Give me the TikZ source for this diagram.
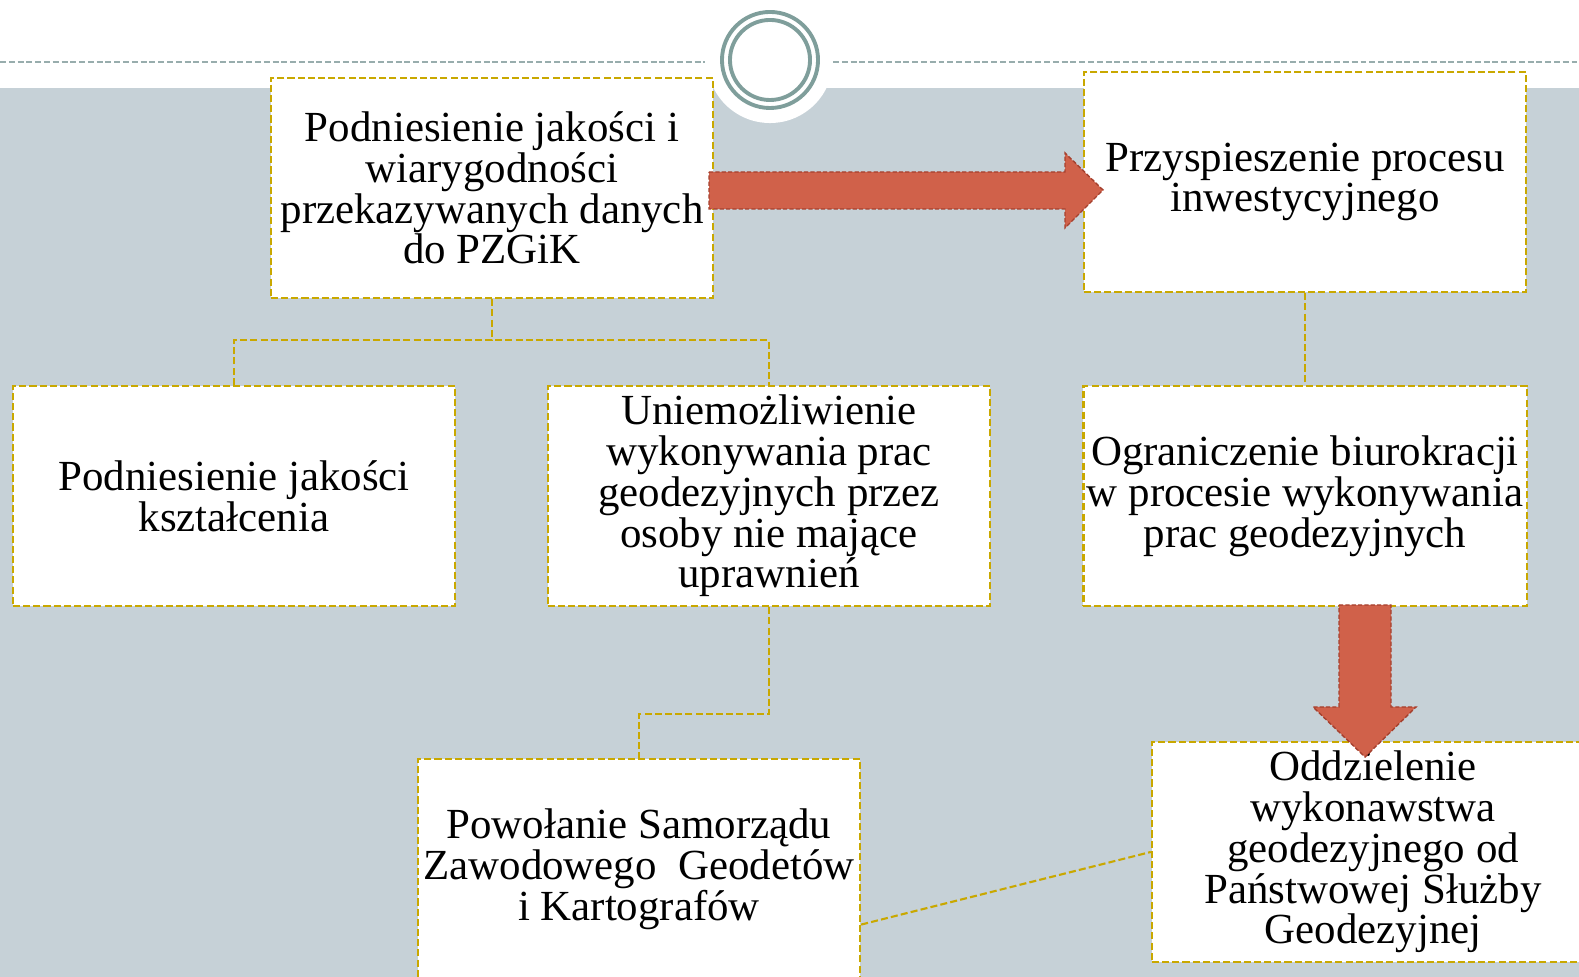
\documentclass[tikz,border=0pt]{standalone}
\usepackage{fontspec}
\setmainfont{Liberation Serif}
\usetikzlibrary{calc}
\definecolor{bgGray}{HTML}{C6D1D7}
\definecolor{ringGray}{HTML}{7F9E9B}
\definecolor{ruleGray}{HTML}{98ADAD}
\definecolor{boxGold}{HTML}{C9A800}
\definecolor{arrowRed}{HTML}{D0614A}
\definecolor{arrowEdge}{HTML}{A5402E}
\begin{document}
\begin{tikzpicture}[x=0.01cm, y=-0.01cm,
    box/.style={draw=boxGold, fill=white, line width=0.6pt,
      dash pattern=on 2pt off 0.9pt, minimum width=4.42cm,
      minimum height=2.2cm, align=center, inner sep=1pt,
      font=\fontsize{12.2}{11.6}\selectfont},
    link/.style={draw=boxGold, line width=0.6pt, dash pattern=on 2pt off 0.9pt},
    blockarrow/.style={fill=arrowRed, draw=arrowEdge, line width=0.4pt,
      dash pattern=on 1.2pt off 0.6pt}]
  \useasboundingbox (0,0) rectangle (1579,977);
  \clip (0,0) rectangle (1579,977);

  % background and top ornament
  \fill[bgGray] (0,88) rectangle (1579,977);
  \fill[white] (770,60) circle[radius=0.63cm];
  \draw[ruleGray, line width=0.45pt, dash pattern=on 1.7pt off 0.8pt] (0,62) -- (705,62);
  \draw[ruleGray, line width=0.45pt, dash pattern=on 1.7pt off 0.8pt] (833,62) -- (1579,62);
  \draw[ringGray, line width=1.1pt] (770,60) circle[radius=0.48cm];
  \draw[ringGray, line width=1.1pt] (770,60) circle[radius=0.40cm];

  % boxes
  \node[box] (a) at (492,188) {Podniesienie jakości i\\wiarygodności\\przekazywanych danych\\do PZGiK};
  \node[box] (b) at (1305,182) {Przyspieszenie procesu\\inwestycyjnego};
  \node[box] (c) at (234,496) {Podniesienie jakości\\kształcenia};
  \node[box] (d) at (769,496) {Uniemożliwienie\\wykonywania prac\\geodezyjnych przez\\osoby nie mające\\uprawnień};
  \node[box] (e) at (1305,496) {Ograniczenie biurokracji\\w procesie wykonywania\\prac geodezyjnych};
  \node[box] (f) at (639,869) {Powołanie Samorządu\\Zawodowego~ Geodetów\\i Kartografów};
  \node[box] (g) at (1373,852) {Oddzielenie\\wykonawstwa\\geodezyjnego od\\Państwowej Służby\\Geodezyjnej};

  % connectors
  \draw[link] (a.south) -- ++(0,41) coordinate (ja);
  \draw[link] (c.north) |- (ja) -| (d.north);
  \draw[link] (b.south) -- (e.north);
  \draw[link] (d.south) -- ++(0,107) -| (f.north);
  \draw[link] ($(f.north east)!0.75!(f.south east)$) -- (g.west);

  % block arrows
  \draw[blockarrow] (709,172) -- (1065,172) -- (1065,153) -- (1103,190)
    -- (1065,228) -- (1065,209) -- (709,209) -- cycle;
  \draw[blockarrow] (1339,605) -- (1391,605) -- (1391,707) -- (1416,707)
    -- (1365,757) -- (1313,707) -- (1339,707) -- cycle;
\end{tikzpicture}
\end{document}
